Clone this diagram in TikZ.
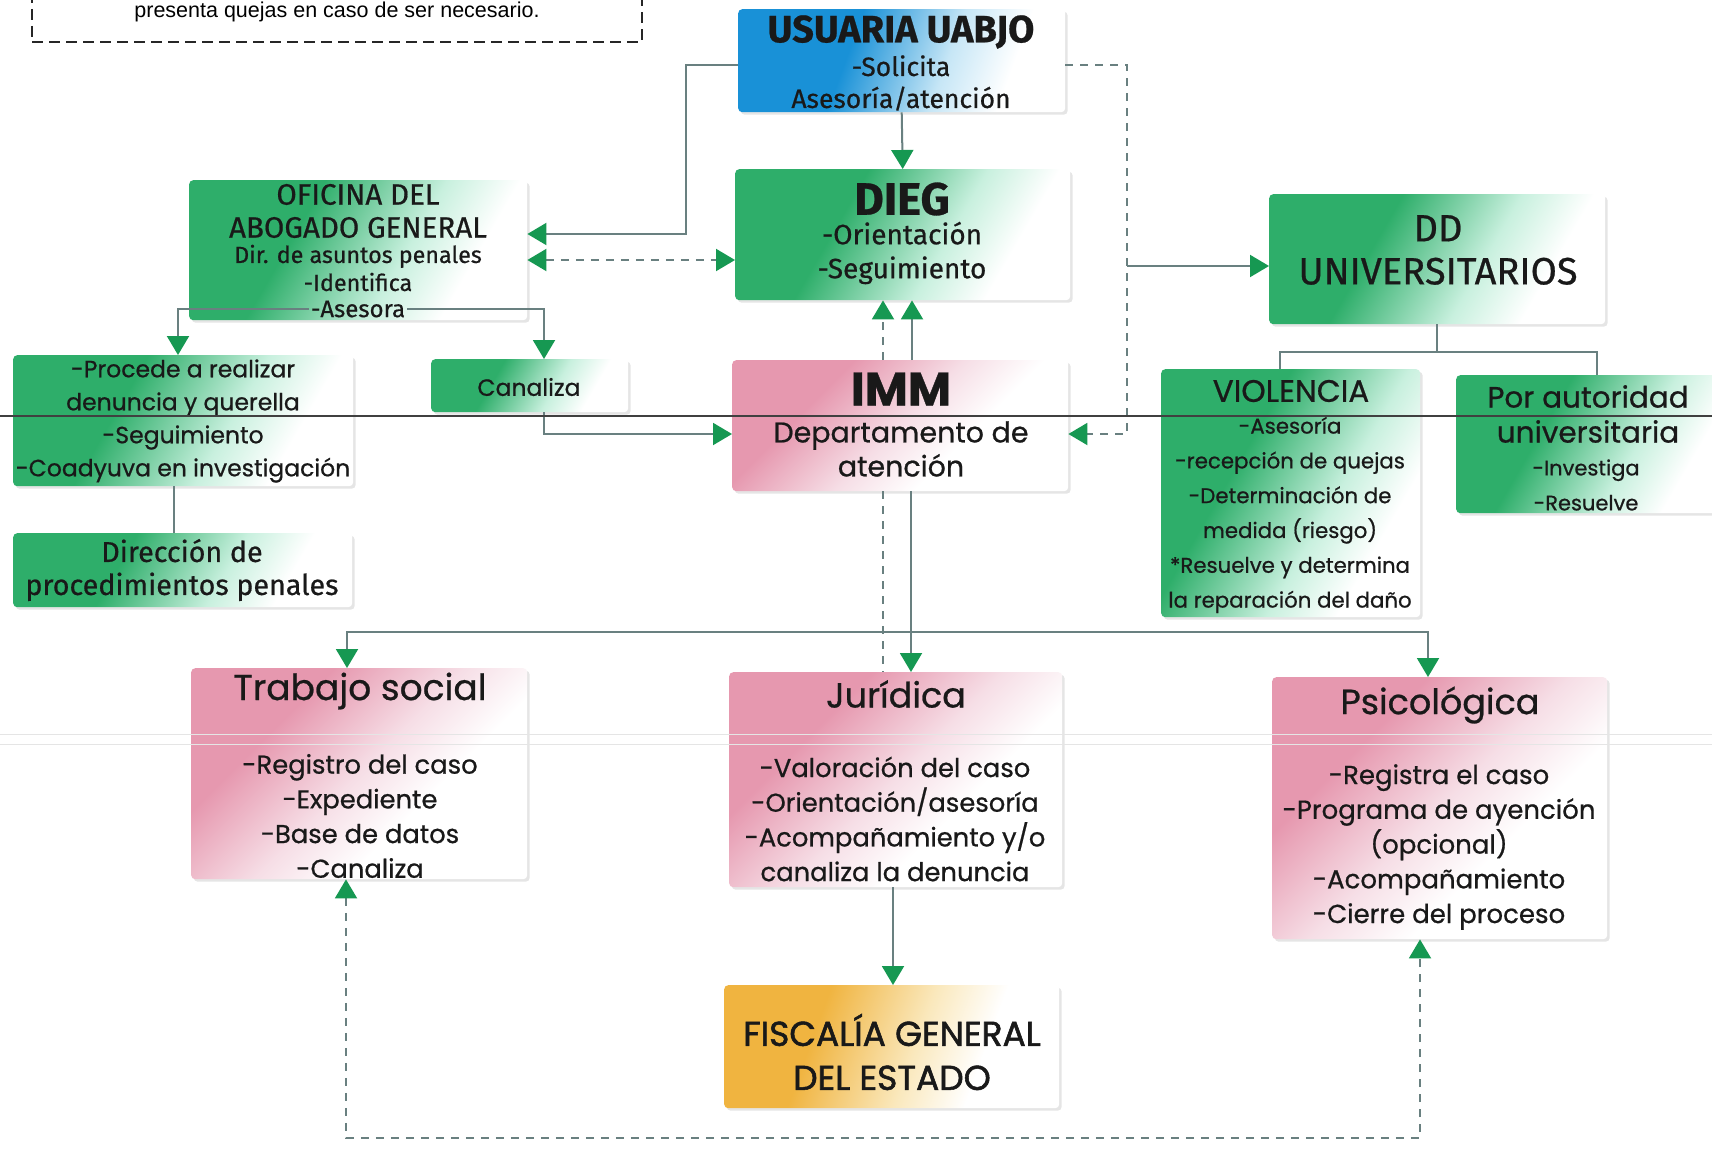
\documentclass[tikz,border=0pt]{standalone}
\usepackage{fontspec}
\setmainfont{Poppins}
\newfontfamily\din[FakeBold=0.6]{Fira Sans}
\newfontfamily\geo[FakeBold=0.7]{Poppins}
\newfontfamily\geob[FakeBold=1.6]{Poppins}
\newfontfamily\ari{Liberation Sans}
\usetikzlibrary{arrows.meta,shadows,calc}
\newcommand\fsz[2]{\fontsize{#1}{#2}\selectfont}
\definecolor{cG}{RGB}{46,174,106}
\definecolor{cGl}{RGB}{200,240,222}
\definecolor{cP}{RGB}{230,152,175}
\definecolor{cPl}{RGB}{246,222,230}
\definecolor{cB}{RGB}{25,145,215}
\definecolor{cBl}{RGB}{198,230,246}
\definecolor{cO}{RGB}{240,180,64}
\definecolor{cOl}{RGB}{250,232,188}
\definecolor{aG}{RGB}{22,152,82}
\definecolor{lnC}{RGB}{105,128,128}
\pgfdeclarehorizontalshading{gsh}{100bp}{color(0bp)=(cG); color(25bp)=(cG); color(38bp)=(cG); color(58bp)=(cGl); color(70bp)=(white); color(100bp)=(white)}
\pgfdeclarehorizontalshading{psh}{100bp}{color(0bp)=(cP); color(25bp)=(cP); color(33bp)=(cP); color(50bp)=(cPl); color(62bp)=(white); color(100bp)=(white)}
\pgfdeclarehorizontalshading{bsh}{100bp}{color(0bp)=(cB); color(25bp)=(cB); color(40bp)=(cB); color(58bp)=(cBl); color(70bp)=(white); color(100bp)=(white)}
\pgfdeclarehorizontalshading{osh}{100bp}{color(0bp)=(cO); color(25bp)=(cO); color(36bp)=(cO); color(54bp)=(cOl); color(66bp)=(white); color(100bp)=(white)}
\tikzset{
  box/.style={rectangle, rounded corners=4pt, inner sep=0pt, anchor=north west,
    drop shadow={shadow xshift=2.5pt, shadow yshift=-2.5pt, fill=black, opacity=0.10}},
  gbox/.style={box, shading=gsh, shading angle=-30},
  pbox/.style={box, shading=psh, shading angle=-45},
  bbox/.style={box, shading=bsh, shading angle=-20},
  obox/.style={box, shading=osh, shading angle=-20},
  txt/.style={align=center, inner sep=1pt, text=black!90},
  ln/.style={draw=lnC, line width=2pt},
  dln/.style={ln, dash pattern=on 8pt off 7pt},
  >={Triangle[width=22pt,length=19pt,color=aG]},
}
\begin{document}
\begin{tikzpicture}[x=1pt,y=-1pt]
\fill[white] (0,0) rectangle (1712,1148);
\useasboundingbox (0,0) rectangle (1712,1148);

% note box
\node[draw=black!85, line width=2pt, dash pattern=on 11pt off 6pt, anchor=north west,
  minimum width=610, minimum height=61, inner sep=0pt, font=\ari\fsz{21.5}{24}] (note) at (31,-20)
  {presenta quejas en caso de ser necesario.};

% boxes
\node[bbox, minimum width=327, minimum height=103] (usu) at (738,9) {};
\node[gbox, minimum width=335, minimum height=131] (dieg) at (735,169) {};
\node[gbox, minimum width=338, minimum height=140] (ofi) at (189,180) {};
\node[gbox, minimum width=336, minimum height=130] (dd) at (1269,194) {};
\node[gbox, minimum width=340, minimum height=131] (proc) at (13,355) {};
\node[gbox, minimum width=197, minimum height=53] (cana) at (431,359) {};
\node[pbox, minimum width=336, minimum height=131] (imm) at (732,360) {};
\node[gbox, minimum width=259, minimum height=248] (viol) at (1161,369) {};
\node[gbox, minimum width=280, minimum height=138] (por) at (1456,375) {};
\node[gbox, minimum width=339, minimum height=74] (dir) at (13,533) {};
\node[pbox, minimum width=336, minimum height=211] (trab) at (191,668) {};
\node[pbox, minimum width=333, minimum height=215] (jur) at (729,672) {};
\node[pbox, minimum width=335, minimum height=262] (psi) at (1272,677) {};
\node[obox, minimum width=335, minimum height=123] (fis) at (724,985) {};

% texts
\node[txt, font=\din\bfseries\fsz{38}{40}] (usuT) at (901,32) {USUARIA UABJO};
\node[txt, font=\din\fsz{26.5}{32}] (usuB) at (901,83) {-Solicita\\Asesoría/atención};
\node[txt, font=\din\bfseries\fsz{45.5}{48}] (diegT) at (902,199) {DIEG};
\node[txt, font=\din\fsz{28}{34}] (diegB) at (902,253) {-Orientación\\-Seguimiento};
\node[txt, font=\din\fsz{29.5}{33}] (ofiT) at (358,211) {OFICINA DEL\\ABOGADO GENERAL};
\node[txt, font=\din\fsz{23.3}{28}] (ofiB) at (358,268) {Dir. de asuntos penales\\-Identifica};
\node[txt, font=\din\fsz{24}{26}, inner sep=2pt] (ases) at (358,309) {-Asesora};
\node[txt, font=\din\fsz{38}{43}] (ddT) at (1438,250) {DD\\UNIVERSITARIOS};
\node[txt, font=\geo\fsz{23.5}{33}] (procT) at (183,421) {-Procede a realizar\\denuncia y querella\\-Seguimiento\\-Coadyuva en investigación};
\node[txt, font=\geo\fsz{23.5}{26}] (canaT) at (529,387) {Canaliza};
\node[txt, font=\geo\bfseries\fsz{47}{50}] (immT) at (901,389) {IMM};
\node[txt, font=\geo\fsz{28.5}{34}] (immB) at (901,449) {Departamento de\\atención};
\node[txt, font=\geo\fsz{31}{34}] (violT) at (1291,391) {VIOLENCIA};
\node[txt, font=\geo\fsz{21.3}{34.8}] (violB) at (1290,515) {-Asesoría\\-recepción de quejas\\-Determinación de\\medida (riesgo)\\*Resuelve y determina\\la reparación del daño};
\node[txt, font=\geo\fsz{29.5}{35}] (porT) at (1588,414) {Por autoridad\\universitaria};
\node[txt, font=\geo\fsz{21}{35}] (porB) at (1586,485) {-Investiga\\-Resuelve};
\node[txt, font=\din\fsz{28.7}{33}] (dirT) at (182,570) {Dirección de\\procedimientos penales};
\node[txt, font=\geo\fsz{36}{40}] (trabT) at (360,691) {Trabajo social};
\node[txt, font=\geo\fsz{25.8}{34.7}] (trabB) at (360,816) {-Registro del caso\\-Expediente\\-Base de datos\\-Canaliza};
\node[txt, font=\geo\fsz{35}{40}] (jurT) at (896,694) {Jurídica};
\node[txt, font=\geo\fsz{25.8}{34.7}] (jurB) at (895,819) {-Valoración del caso\\-Orientación/asesoría\\-Acompañamiento y/o\\canaliza la denuncia};
\node[txt, font=\geo\fsz{35}{40}] (psiT) at (1440,705) {Psicológica};
\node[txt, font=\geo\fsz{26}{34.75}] (psiB) at (1439,847) {-Registra el caso\\-Programa de ayención\\(opcional)\\-Acompañamiento\\-Cierre del proceso};
\node[txt, font=\geob\fsz{34.5}{44}] (fisT) at (892,1052) {FISCALÍA GENERAL\\DEL ESTADO};

% coordinates
\coordinate (c1) at (686,234);
\coordinate (c2) at (1127,434);
\coordinate (c3) at (1127,266);
\coordinate (c4) at (600,260);
\coordinate (c5) at (178,309);
\coordinate (c6) at (544,309);
\coordinate (c7) at (544,434);
\coordinate (c8) at (174,0);
\coordinate (c9) at (912,0);
\coordinate (c10) at (883,0);
\coordinate (c11) at (911,632);
\coordinate (c12) at (347,632);
\coordinate (c13) at (1428,632);
\coordinate (c14) at (893,0);
\coordinate (c15) at (346,1138);
\coordinate (c16) at (1420,1138);
\coordinate (c17) at (1439,352);
\coordinate (c18) at (1280,352);
\coordinate (c19) at (1597,352);

% connectors
\draw[ln,->] (usu.west |- 0,65) -| (c1) -- (ofi.east |- c1);
\draw[ln,->] (usu.south) -- (dieg.north);
\draw[dln,->] (usu.east |- 0,65) -| (c2) -- (imm.east |- c2);
\draw[ln,->] (c3) -- (dd.west |- c3);
\draw[dln,<->] (ofi.east |- c4) -- (dieg.west |- c4);
\draw[ln,->] (ases.west) -- (c5) -- (c5 |- proc.north);
\draw[ln,->] (ases.east) -- (c6) -- (c6 |- cana.north);
\draw[ln,->] (c6 |- cana.south) -- (c7) -- (imm.west |- c7);
\draw[ln] (proc.south -| c8) -- (dir.north -| c8);
\draw[ln,->] (imm.north -| c9) -- (dieg.south -| c9);
\draw[dln,->] (imm.north -| c10) -- (dieg.south -| c10);
\draw[ln,->] (imm.south -| c11) -- (jur.north -| c11);
\draw[ln,->] (c11) -- (c12) -- (trab.north -| c12);
\draw[ln,->] (c11) -- (c13) -- (psi.north -| c13);
\draw[dln] (imm.south -| c10) -- (jur.north -| c10);
\draw[ln,->] (jur.south -| c14) -- (fis.north -| c14);
\draw[dln,<->] (trab.south -| c15) -- (c15) -- (c16) -- (psi.south -| c16);
\draw[ln] (dd.south) -- (dd.south |- c17);
\draw[ln] (c18 |- viol.north) -- (c18) -- (c19) -- (c19 |- por.north);

% scan lines
\draw[black!75, line width=1.8pt] (0,416) -- (1712,416);
\draw[black!10, line width=1pt] (0,734) -- (1712,734);
\draw[black!10, line width=1pt] (0,744) -- (1712,744);
\end{tikzpicture}
\end{document}
